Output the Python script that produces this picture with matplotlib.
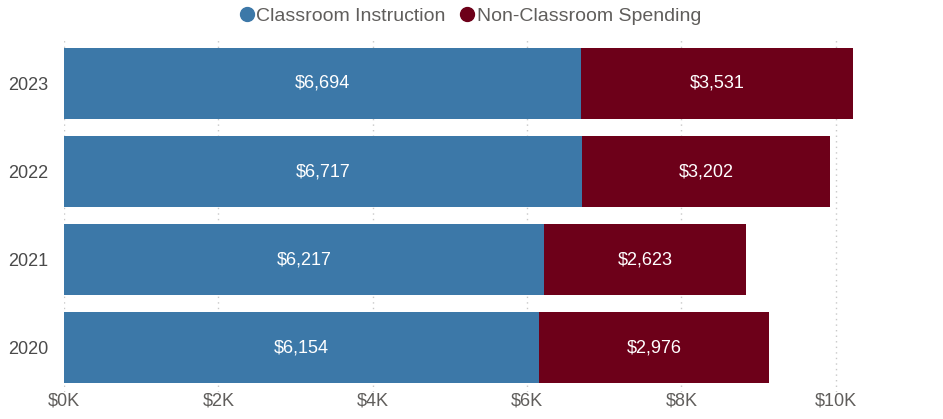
import matplotlib.pyplot as plt
from matplotlib.lines import Line2D
from matplotlib.ticker import FuncFormatter

years = ["2023", "2022", "2021", "2020"]
classroom = [6694, 6717, 6217, 6154]
non_classroom = [3531, 3202, 2623, 2976]

blue = "#3C78A8"
maroon = "#6D0019"
gray = "#605E5C"

plt.rcParams["font.family"] = ["Liberation Sans", "DejaVu Sans"]

fig = plt.figure(figsize=(9.43, 4.19), dpi=100)
ax = fig.add_axes([64 / 943, 1 - 391.5 / 419, (913 - 64) / 943, 352 / 419])

pos = list(range(len(years)))[::-1]
ax.barh(pos, classroom, height=0.8, color=blue, zorder=2)
ax.barh(pos, non_classroom, left=classroom, height=0.8, color=maroon, zorder=2)

for p, c, n in zip(pos, classroom, non_classroom):
    ax.text(c / 2, p, f"${c:,}", ha="center", va="center", color="white", fontsize=13)
    ax.text(c + n / 2, p, f"${n:,}", ha="center", va="center", color="white", fontsize=13)

ax.set_xlim(0, 11000)
ax.set_ylim(-0.5, 3.5)
ax.set_yticks(pos)
ax.set_yticklabels(years)
ax.set_xticks(range(0, 10001, 2000))
ax.xaxis.set_major_formatter(FuncFormatter(lambda v, _: f"${int(v / 1000)}K"))
ax.tick_params(length=0, labelsize=13, colors=gray)
ax.tick_params(axis="y", pad=11, colors="#4A4A4A")
ax.tick_params(axis="x", pad=1)
ax.grid(axis="x", linestyle=(0, (1, 3)), color="#C8C8C8", linewidth=1, zorder=0)
for s in ax.spines.values():
    s.set_visible(False)

handles = [
    Line2D([], [], marker="o", linestyle="", color=blue, markersize=10),
    Line2D([], [], marker="o", linestyle="", color=maroon, markersize=10),
]
fig.legend(handles, ["Classroom Instruction", "Non-Classroom Spending"], loc="center",
           bbox_to_anchor=(468 / 943, 1 - 16 / 419), ncol=2, frameon=False,
           fontsize=14, handletextpad=-0.1, handlelength=1.2, columnspacing=0.5,
           labelcolor=gray)

fig.savefig("out.png", dpi=100)
